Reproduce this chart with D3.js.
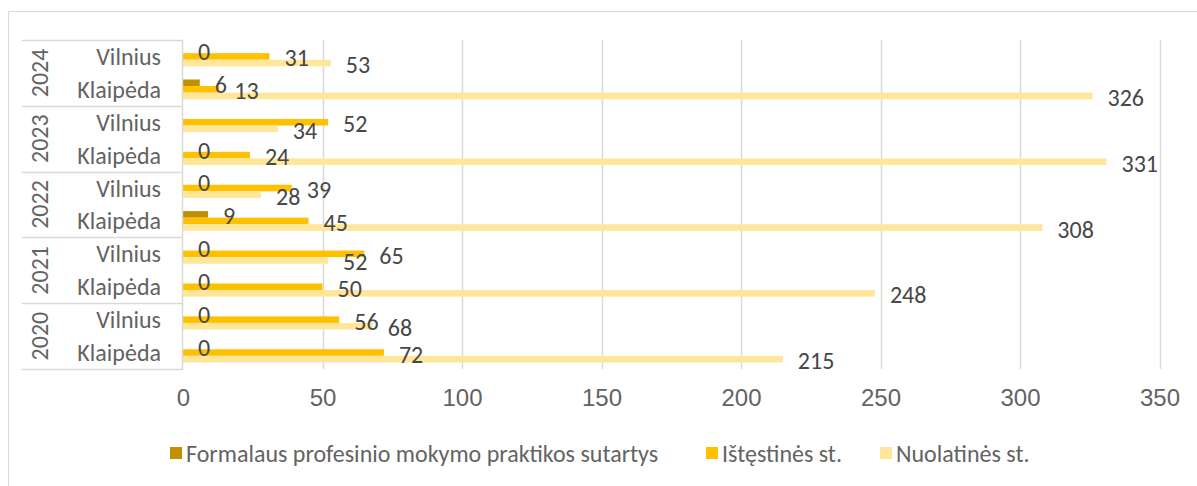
<!DOCTYPE html>
<html>
<head>
<meta charset="utf-8">
<script src="https://cdn.jsdelivr.net/npm/d3@7"></script>
<style>
  body { margin: 0; background: #fff; }
  svg { font-family: Carlito, Lato, "Open Sans", sans-serif; }
</style>
</head>
<body>
<div id="chart"></div>
<script>
// categories, top to bottom as drawn
var years = ["2024", "2023", "2022", "2021", "2020"];
var cities = ["Vilnius", "Klaipėda"];

var seriesNames = ["Formalaus profesinio mokymo praktikos sutartys", "Ištęstinės st.", "Nuolatinės st."];
var seriesColors = ["#BF9000", "#FFC000", "#FFE699"];

// values per category, order: 2024 Vilnius, 2024 Klaipėda, 2023 Vilnius, ...
var formalaus   = [0, 6, null, 0, 0, 9, 0, 0, 0, 0];
var istestines  = [31, 13, 52, 24, 39, 45, 65, 50, 56, 72];
var nuolatines  = [53, 326, 34, 331, 28, 308, 52, 248, 68, 215];

var xTicks = [0, 50, 100, 150, 200, 250, 300, 350];

var width = 1197, height = 486;
var mLeft = 183, mRight = 1159.5, mTop = 40, mBottom = 369;
var fs = 24;

var svg = d3.select("#chart").append("svg")
    .attr("width", width)
    .attr("height", height);

// outer chart border (left and top visible)
svg.append("path")
    .attr("d", "M8.5,486 L8.5,11.5 L1197,11.5")
    .attr("fill", "none")
    .attr("stroke", "#d9d9d9");

var cats = [];
years.forEach(function(y) {
    cities.forEach(function(c) { cats.push(y + "|" + c); });
});

var series = [formalaus, istestines, nuolatines];

var x = d3.scaleLinear()
    .domain([0, 350])
    .range([mLeft, mRight]);

var y = d3.scaleBand()
    .domain(cats)
    .range([mTop, mBottom]);

var bw = y.bandwidth();
var ySub = d3.scaleBand()
    .domain([0, 1, 2])
    .range([bw * 0.2, bw * 0.8]);

// gridlines
svg.append("g")
    .attr("class", "grid")
    .selectAll("line")
    .data(xTicks.slice(1))
    .enter().append("line")
    .attr("x1", function(d) { return Math.round(x(d)) + 0.5; })
    .attr("x2", function(d) { return Math.round(x(d)) + 0.5; })
    .attr("y1", mTop)
    .attr("y2", mBottom)
    .attr("stroke", "#d9d9d9")
    .attr("stroke-width", 1.5);

// x tick labels
var xAxis = svg.append("g")
    .attr("transform", "translate(0," + mBottom + ")")
    .call(d3.axisBottom(x).tickValues(xTicks).tickSize(0).tickPadding(20));
xAxis.select(".domain").remove();
xAxis.selectAll("text")
    .attr("font-size", fs)
    .attr("font-family", null)
    .attr("fill", "#636363");

// bars
series.forEach(function(vals, si) {
    svg.append("g")
        .selectAll("rect")
        .data(vals.map(function(v, i) { return { v: v, c: cats[i] }; }).filter(function(d) { return d.v !== null; }))
        .enter().append("rect")
        .attr("x", x(0))
        .attr("y", function(d) { return y(d.c) + ySub(si); })
        .attr("width", function(d) { return x(d.v) - x(0); })
        .attr("height", ySub.bandwidth())
        .attr("fill", seriesColors[si]);
});

// data labels
series.forEach(function(vals, si) {
    svg.append("g")
        .selectAll("text")
        .data(vals.map(function(v, i) { return { v: v, c: cats[i] }; }).filter(function(d) { return d.v !== null; }))
        .enter().append("text")
        .attr("x", function(d) { return x(d.v) + 15; })
        .attr("y", function(d) { return y(d.c) + ySub(si) + ySub.bandwidth() / 2 + 1.5; })
        .attr("dominant-baseline", "central")
        .attr("font-size", fs)
        .attr("fill", "#474747")
        .text(function(d) { return d.v; });
});

// vertical axis line
svg.append("line")
    .attr("x1", mLeft - 0.5).attr("x2", mLeft - 0.5)
    .attr("y1", mTop).attr("y2", mBottom + 1)
    .attr("stroke", "#d9d9d9")
    .attr("stroke-width", 1.5);

// year group separators
var sepYs = [mTop];
years.forEach(function(yr) { sepYs.push(y(yr + "|" + cities[1]) + bw); });
svg.append("g")
    .selectAll("line")
    .data(sepYs)
    .enter().append("line")
    .attr("x1", 22).attr("x2", mLeft)
    .attr("y1", function(d) { return Math.round(d) + 0.5; })
    .attr("y2", function(d) { return Math.round(d) + 0.5; })
    .attr("stroke", "#d9d9d9")
    .attr("stroke-width", 1.5);

// city labels
svg.append("g")
    .selectAll("text")
    .data(cats)
    .enter().append("text")
    .attr("x", 161)
    .attr("y", function(d) { return y(d) + bw / 2; })
    .attr("text-anchor", "end")
    .attr("dominant-baseline", "central")
    .attr("font-size", fs)
    .attr("fill", "#636363")
    .text(function(d) { return d.split("|")[1]; });

// year labels (rotated)
svg.append("g")
    .selectAll("text")
    .data(years)
    .enter().append("text")
    .attr("transform", function(d) {
        var cy = y(d + "|" + cities[0]) + bw;
        return "translate(39," + cy + ") rotate(-90)";
    })
    .attr("text-anchor", "middle")
    .attr("dominant-baseline", "central")
    .attr("font-size", fs)
    .attr("fill", "#636363")
    .text(function(d) { return d; });

// legend
var legendX = [170, 706, 880];
var legend = svg.append("g")
    .selectAll("g")
    .data(seriesNames)
    .enter().append("g")
    .attr("transform", function(d, i) { return "translate(" + legendX[i] + ",447)"; });
legend.append("rect")
    .attr("width", 12).attr("height", 12)
    .attr("fill", function(d, i) { return seriesColors[i]; });
legend.append("text")
    .attr("x", 16)
    .attr("y", 6.5)
    .attr("dominant-baseline", "central")
    .attr("font-size", fs)
    .attr("fill", "#636363")
    .text(function(d) { return d; });
</script>
</body>
</html>
